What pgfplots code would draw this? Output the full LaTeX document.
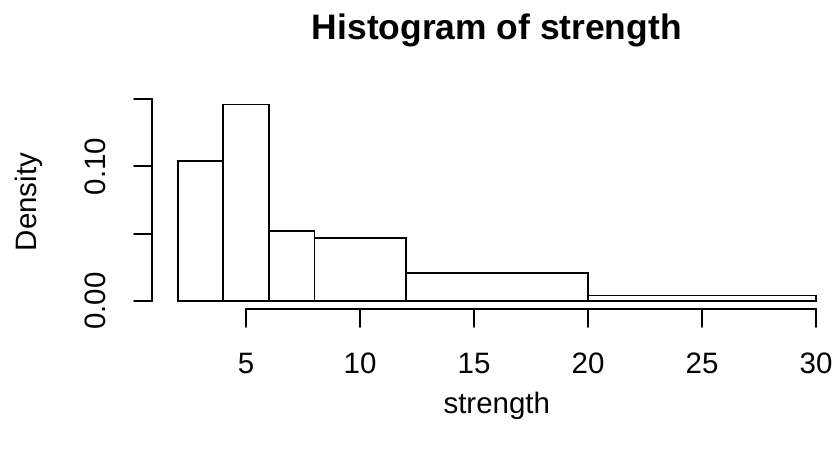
\documentclass[border=0pt]{standalone}
\usepackage{fontspec}
\setmainfont{Liberation Sans}
\usepackage{pgfplots}
\pgfplotsset{compat=1.18}
\begin{document}
\begin{tikzpicture}[x=1pt,y=1pt]
\fontsize{29.5}{35}\selectfont
% histogram bars
\begin{axis}[at={(152.1pt,147.1pt)},anchor=south west,scale only axis,
  width=689.4pt,height=212.2pt,xmin=0.88,xmax=31.12,ymin=-0.005833,ymax=0.151667,
  hide axis,clip=false,ybar interval]
\addplot[fill=white,draw=black,line width=1.8pt] coordinates
  {(2,0.104167)(4,0.145833)(6,0.052083)(8,0.046875)(12,0.020833)(20,0.004167)(30,0.004167)};
\end{axis}
% x axis
\begin{axis}[at={(246.0pt,147.1pt)},anchor=south west,scale only axis,
  width=570pt,height=20pt,xmin=5,xmax=30,ymin=0,ymax=1,
  axis x line=bottom,axis y line=none,xtick={5,10,15,20,25,30},ytick=\empty,
  tick align=outside,major tick length=18pt,
  axis line style={-,line width=1.8pt,line cap=round},
  every tick/.style={black,line width=1.8pt,line cap=round},
  /pgf/number format/assume math mode=true,
  xticklabel style={anchor=north,yshift=-16pt,font=\fontsize{29.5}{35}\selectfont}]
\end{axis}
% y axis
\begin{axis}[at={(152.1pt,154.96pt)},anchor=south west,scale only axis,
  width=20pt,height=202.1pt,xmin=0,xmax=1,ymin=0,ymax=0.15,
  axis y line=left,axis x line=none,ytick={0,0.05,0.1,0.15},yticklabels={0.00,,0.10,},xtick=\empty,
  tick align=outside,major tick length=18pt,
  axis line style={-,line width=1.8pt,line cap=round},
  every tick/.style={black,line width=1.8pt,line cap=round},
  yticklabel style={rotate=90,anchor=south,yshift=18pt,font=\fontsize{29.5}{35}\selectfont}]
\end{axis}
\node[anchor=base,font=\fontsize{35.4}{40}\selectfont\bfseries] at (496.8,416) {Histogram of strength};
\node[anchor=base] at (496.8,43) {strength};
\node[anchor=base,rotate=90] at (36.7,254) {Density};
\pgfresetboundingbox
\useasboundingbox (0,0) rectangle (837,456);
\end{tikzpicture}
\end{document}
